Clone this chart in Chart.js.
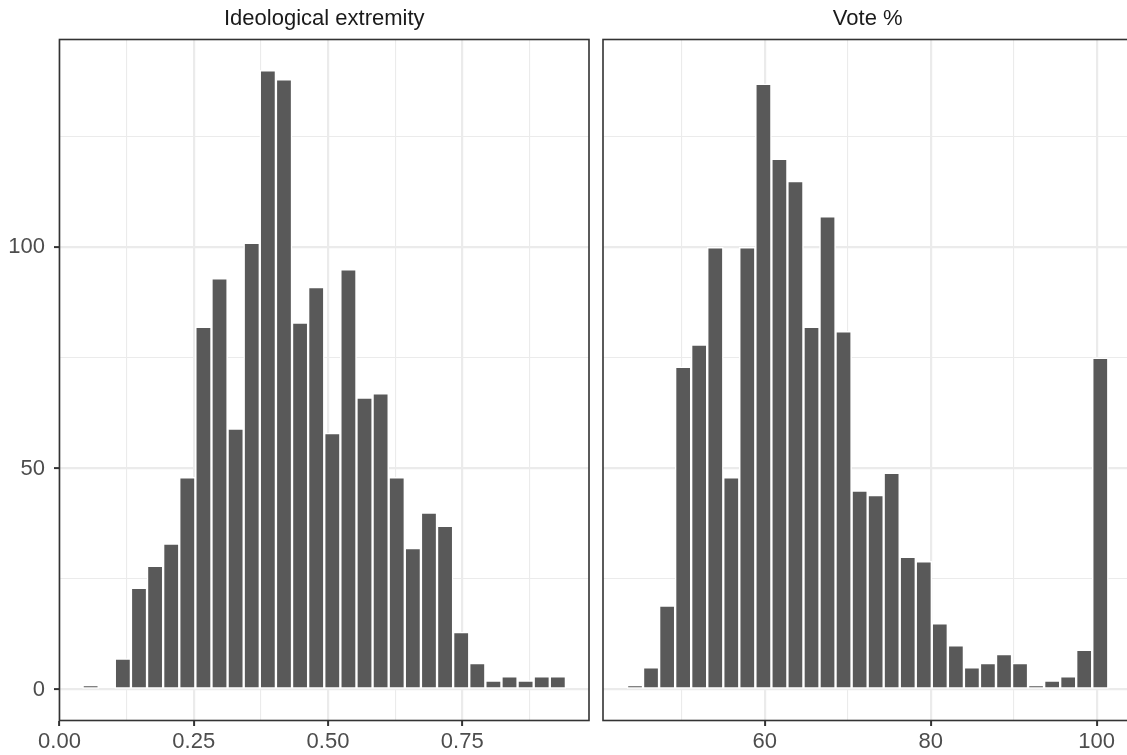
<!DOCTYPE html>
<html lang="en">
<head>
  <meta charset="UTF-8">
  <title>Ideological extremity / Vote %</title>
  <style>
    html, body {
      margin: 0;
      padding: 0;
      background: #ffffff;
      overflow: hidden;
      width: 1127px;
      height: 755px;
    }
    canvas {
      position: absolute;
      top: 0;
    }
    #ideoChart { left: 0; }
    #voteChart { left: 600px; }
  </style>
</head>
<body>
  <canvas id="ideoChart" width="600" height="755"></canvas>
  <canvas id="voteChart" width="540" height="755"></canvas>

  <script src="https://cdn.jsdelivr.net/npm/chart.js"></script>
  <script>
    // histogram bins (centres) and counts
    const ideoBins = [0.058, 0.088, 0.118, 0.148, 0.178, 0.208, 0.238, 0.268, 0.298, 0.328,
                      0.358, 0.388, 0.418, 0.448, 0.478, 0.508, 0.538, 0.568, 0.598, 0.628,
                      0.658, 0.688, 0.718, 0.748, 0.778, 0.808, 0.838, 0.868, 0.898, 0.928];
    const ideoCounts = [1, 0, 7, 23, 28, 33, 48, 82, 93, 59,
                        101, 140, 138, 83, 91, 58, 95, 66, 67, 48,
                        32, 40, 37, 13, 6, 2, 3, 2, 3, 3];

    const voteBins = [44.36, 46.29, 48.23, 50.16, 52.09, 54.03, 55.96, 57.89, 59.83, 61.76,
                      63.69, 65.63, 67.56, 69.49, 71.43, 73.36, 75.29, 77.23, 79.16, 81.09,
                      83.03, 84.96, 86.89, 88.83, 90.76, 92.69, 94.63, 96.56, 98.49, 100.43];
    const voteCounts = [1, 5, 19, 73, 78, 100, 48, 100, 137, 120,
                        115, 82, 107, 81, 45, 44, 49, 30, 29, 15,
                        10, 5, 6, 8, 6, 1, 2, 3, 9, 75];

    const ideoMajor = [0, 0.25, 0.5, 0.75];
    const voteMajor = [60, 80, 100];
    const countMajor = [0, 50, 100];

    const FONT = "'Liberation Sans', Arial, Helvetica, sans-serif";
    const GRID = '#ebebeb';
    const DARK = '#333333';

    const panelBorder = {
      id: 'panelBorder',
      afterDraw(chart) {
        const { ctx, chartArea: a } = chart;
        ctx.save();
        ctx.strokeStyle = DARK;
        ctx.lineWidth = 1.6;
        ctx.strokeRect(a.left, a.top, a.right - a.left, a.bottom - a.top);
        ctx.restore();
      }
    };

    function gridFor(major, showTicks) {
      const isMajor = c => c.tick && major.some(m => Math.abs(m - c.tick.value) < 1e-9);
      return {
        color: GRID,
        lineWidth: c => isMajor(c) ? 2.2 : 1.1,
        drawTicks: showTicks,
        tickLength: 5.5,
        tickWidth: 2,
        tickColor: c => isMajor(c) ? DARK : 'rgba(0,0,0,0)'
      };
    }

    function makeChart(id, title, bins, counts, xOpts, major, withY, pad) {
      return new Chart(document.getElementById(id), {
        type: 'bar',
        data: {
          datasets: [{
            data: bins.map((b, i) => ({ x: b, y: counts[i] })),
            backgroundColor: '#595959',
            borderColor: '#ffffff',
            borderWidth: 1.5,
            borderSkipped: false,
            barPercentage: 1,
            categoryPercentage: 1
          }]
        },
        options: {
          responsive: false,
          animation: false,
          layout: { padding: pad },
          plugins: {
            legend: { display: false },
            tooltip: { enabled: false },
            title: {
              display: true,
              text: title,
              fullSize: false,
              color: '#1a1a1a',
              font: { family: FONT, size: 22, weight: 'normal' },
              padding: { top: 5.3, bottom: 7.8 }
            }
          },
          scales: {
            x: {
              type: 'linear',
              offset: false,
              min: xOpts.min,
              max: xOpts.max,
              border: { display: false },
              grid: Object.assign(gridFor(major, true), { offset: false }),
              ticks: {
                stepSize: xOpts.step,
                includeBounds: false,
                autoSkip: false,
                maxRotation: 0,
                padding: 2.5,
                color: '#4d4d4d',
                font: { family: FONT, size: 22 },
                callback: v => major.some(m => Math.abs(m - v) < 1e-9) ? xOpts.fmt(v) : ''
              },
              afterFit: s => { s.height = 34.5; }
            },
            y: {
              min: -7,
              max: 147,
              border: { display: false },
              grid: gridFor(countMajor, withY),
              ticks: {
                display: withY,
                stepSize: 25,
                includeBounds: false,
                padding: 9,
                color: '#4d4d4d',
                font: { family: FONT, size: 22 },
                callback: v => countMajor.includes(v) ? String(v) : ''
              },
              afterFit: s => { s.width = withY ? 59.5 : 0; }
            }
          }
        },
        plugins: [panelBorder]
      });
    }

    makeChart('ideoChart', 'Ideological extremity', ideoBins, ideoCounts,
      { min: 0, max: 0.986, step: 0.125, fmt: v => v.toFixed(2) },
      ideoMajor, true, { left: 0, right: 11, top: 0, bottom: 0 });

    makeChart('voteChart', 'Vote %', voteBins, voteCounts,
      { min: 40.5, max: 104.3, step: 10, fmt: v => String(v) },
      voteMajor, false, { left: 3, right: 7.6, top: 0, bottom: 0 });
  </script>
</body>
</html>
